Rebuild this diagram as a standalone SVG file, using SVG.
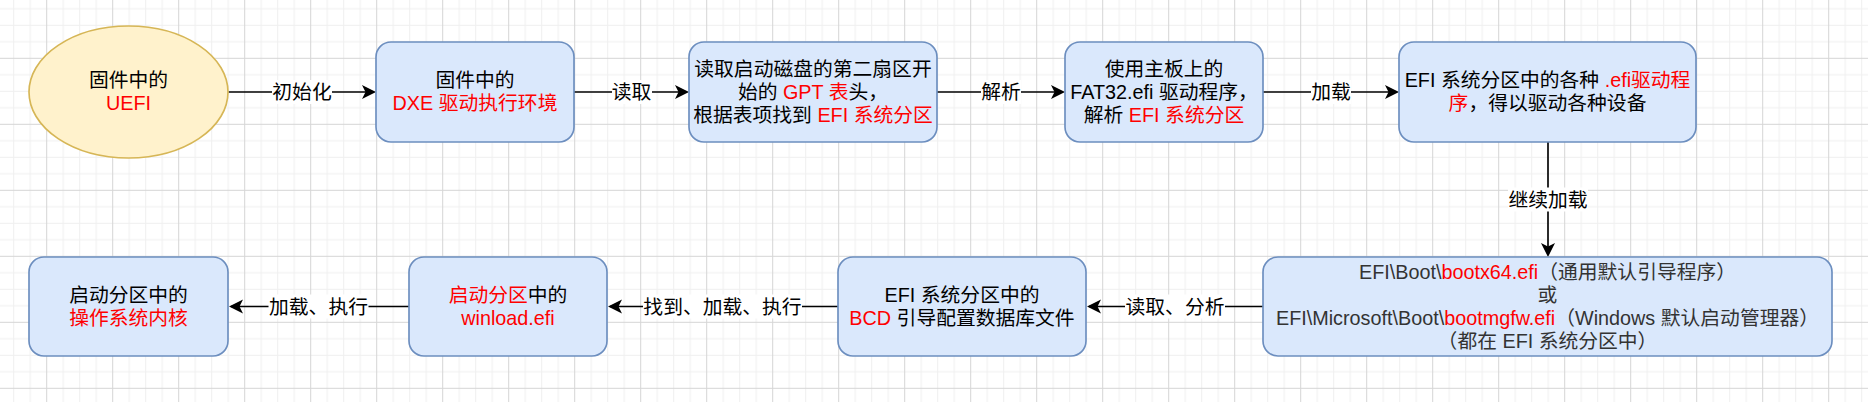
<svg xmlns="http://www.w3.org/2000/svg" width="1868" height="402" viewBox="0 0 1868 402">
<style>
text{font-family:"Liberation Sans","Noto Sans CJK SC",sans-serif;font-size:19.8px;fill:#000;text-anchor:middle}
.r{fill:#ff0000}
.g{fill:#333333}
.g .r{fill:#ff0000}
.box{fill:#dae8fc;stroke:#6c8ebf;stroke-width:1.65}
.ell{fill:#fff2cc;stroke:#d6b656;stroke-width:1.65}
.edge{fill:none;stroke:#000;stroke-width:1.65;marker-end:url(#arr)}
.lbg{fill:#ffffff}
</style>
<defs>
<pattern id="grid" patternUnits="userSpaceOnUse" x="46.2" y="57.8" width="66" height="66">
<path d="M17 0V66M33.5 0V66M50 0V66M0 17H66M0 33.5H66M0 50H66" stroke="#efefef" stroke-width="1" fill="none"/>
<path d="M0.5 0V66M0 0.5H66" stroke="#d5d5d5" stroke-width="1" fill="none"/>
</pattern>
<marker id="arr" markerUnits="userSpaceOnUse" viewBox="0 0 16 16" markerWidth="16" markerHeight="16" refX="13" refY="8" orient="auto">
<path d="M1,1 L15,8 L1,15 L4.5,8 Z" fill="#000"/>
</marker>
</defs>
<rect width="1868" height="402" fill="#ffffff"/>
<rect width="1868" height="402" fill="url(#grid)"/>

<g id="connectors">
<path class="edge" d="M228.5,92 H374"/>
<path class="edge" d="M574,92 H687"/>
<path class="edge" d="M937,92 H1063"/>
<path class="edge" d="M1263,92 H1397"/>
<path class="edge" d="M1548,142 V255"/>
<path class="edge" d="M1263,306.5 H1089"/>
<path class="edge" d="M838,306.5 H610"/>
<path class="edge" d="M409,306.5 H231"/>
<rect class="lbg" x="272" y="80" width="60" height="24"/><text x="302" y="99">初始化</text>
<rect class="lbg" x="612" y="80" width="40" height="24"/><text x="631.5" y="99">读取</text>
<rect class="lbg" x="981" y="80" width="40" height="24"/><text x="1001" y="99">解析</text>
<rect class="lbg" x="1311" y="80" width="40" height="24"/><text x="1331" y="99">加载</text>
<rect class="lbg" x="1508" y="187.5" width="80" height="24"/><text x="1548" y="206.5">继续加载</text>
<rect class="lbg" x="1125" y="294.5" width="100" height="24"/><text x="1175" y="313.5">读取、分析</text>
<rect class="lbg" x="643" y="294.5" width="159" height="24"/><text x="722.5" y="313.5">找到、加载、执行</text>
<rect class="lbg" x="268.5" y="294.5" width="100" height="24"/><text x="318.5" y="313.5">加载、执行</text>
</g>

<g id="n-uefi">
<ellipse class="ell" cx="128.5" cy="92" rx="99.5" ry="66"/>
<text x="128.5" y="87">固件中的</text>
<text x="128.5" y="110" class="r">UEFI</text>
</g>

<g id="n-dxe">
<rect class="box" x="376" y="42" width="198" height="100" rx="15"/>
<text x="475" y="87">固件中的</text>
<text x="475" y="110" class="r">DXE 驱动执行环境</text>
</g>

<g id="n-gpt">
<rect class="box" x="689" y="42" width="248" height="100" rx="15"/>
<text x="813" y="76">读取启动磁盘的第二扇区开</text>
<text x="813" y="99">始的 <tspan class="r">GPT 表</tspan>头，</text>
<text x="813" y="122">根据表项找到 <tspan class="r">EFI 系统分区</tspan></text>
</g>

<g id="n-fat32">
<rect class="box" x="1065" y="42" width="198" height="100" rx="15"/>
<text x="1164" y="76">使用主板上的</text>
<text x="1164" y="99">FAT32.efi 驱动程序，</text>
<text x="1164" y="122">解析 <tspan class="r">EFI 系统分区</tspan></text>
</g>

<g id="n-drivers">
<rect class="box" x="1399" y="42" width="297" height="100" rx="15"/>
<text x="1547.5" y="87">EFI 系统分区中的各种 <tspan class="r">.efi驱动程</tspan></text>
<text x="1547.5" y="110"><tspan class="r">序</tspan>，得以驱动各种设备</text>
</g>

<g id="n-bootmgr">
<rect class="box" x="1263" y="257" width="569" height="99" rx="15"/>
<g class="g">
<text x="1547.5" y="279" class="g">EFI\Boot\<tspan class="r">bootx64.efi</tspan>（通用默认引导程序）</text>
<text x="1547.5" y="302" class="g">或</text>
<text x="1547.5" y="325" class="g">EFI\Microsoft\Boot\<tspan class="r">bootmgfw.efi</tspan>（Windows 默认启动管理器）</text>
<text x="1547.5" y="348" class="g">（都在 EFI 系统分区中）</text>
</g>
</g>

<g id="n-bcd">
<rect class="box" x="838" y="257" width="248" height="99" rx="15"/>
<text x="962" y="302">EFI 系统分区中的</text>
<text x="962" y="325"><tspan class="r">BCD</tspan> 引导配置数据库文件</text>
</g>

<g id="n-winload">
<rect class="box" x="409" y="257" width="198" height="99" rx="15"/>
<text x="508" y="302"><tspan class="r">启动分区</tspan>中的</text>
<text x="508" y="325" class="r">winload.efi</text>
</g>

<g id="n-kernel">
<rect class="box" x="29" y="257" width="199" height="99" rx="15"/>
<text x="128.5" y="302">启动分区中的</text>
<text x="128.5" y="325" class="r">操作系统内核</text>
</g>
</svg>
